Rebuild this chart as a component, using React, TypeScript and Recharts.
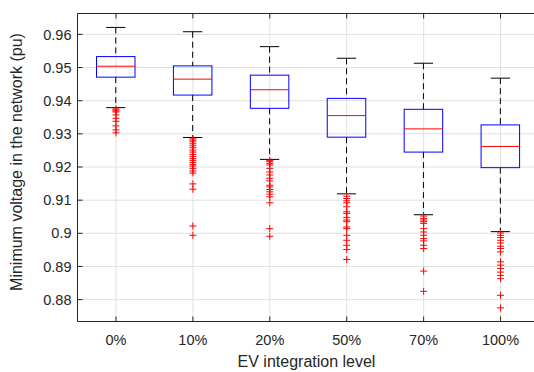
import { ComposedChart, Bar, Scatter, XAxis, YAxis, CartesianGrid, ReferenceLine } from 'recharts';

const categories = ['0%', '10%', '20%', '50%', '70%', '100%'];
const whiskerHigh = [0.9621, 0.9608, 0.9563, 0.9528, 0.9513, 0.9468];
const upperQuartile = [0.9533, 0.9505, 0.9477, 0.9407, 0.9374, 0.9327];
const medians = [0.9504, 0.9465, 0.9433, 0.9355, 0.9315, 0.9262];
const lowerQuartile = [0.9471, 0.9417, 0.9377, 0.929, 0.9245, 0.9198];
const whiskerLow = [0.9379, 0.9289, 0.9223, 0.9119, 0.9056, 0.9005];

const outliers0 = [0.9375, 0.9372, 0.9369, 0.9366, 0.9357, 0.9347, 0.9338, 0.9324, 0.9312, 0.9303];
const outliers10 = [
  0.9285, 0.9281, 0.9276, 0.927, 0.9264, 0.9258, 0.9251, 0.9245, 0.9238, 0.9232, 0.9226,
  0.922, 0.9214, 0.9208, 0.9203, 0.9196, 0.9188, 0.9182, 0.9149, 0.9133, 0.9022, 0.8994,
];
const outliers20 = [
  0.922, 0.9216, 0.9211, 0.9206, 0.9196, 0.9185, 0.9176, 0.9166, 0.9158, 0.9145, 0.914,
  0.9132, 0.9125, 0.9118, 0.911, 0.9092, 0.9014, 0.8991,
];
const outliers50 = [
  0.9112, 0.9105, 0.9098, 0.9092, 0.908, 0.9065, 0.906, 0.9048, 0.904, 0.9035, 0.9019,
  0.9014, 0.8994, 0.8979, 0.8964, 0.8951, 0.8921,
];
const outliers70 = [
  0.9052, 0.9045, 0.904, 0.9035, 0.903, 0.9014, 0.9004, 0.8994, 0.8984, 0.8977, 0.8964,
  0.8954, 0.8886, 0.8825,
];
const outliers100 = [
  0.9001, 0.8994, 0.8987, 0.8979, 0.8971, 0.8961, 0.8954, 0.8944, 0.8914, 0.8904, 0.8894,
  0.8883, 0.8873, 0.8863, 0.8813, 0.8775,
];
const outliers = [outliers0, outliers10, outliers20, outliers50, outliers70, outliers100];

const yTicks = [0.88, 0.89, 0.9, 0.91, 0.92, 0.93, 0.94, 0.95, 0.96];
const yDomain = [0.8734, 0.9663];

const boxData = categories.map((cat, i) => ({
  cat,
  range: [whiskerLow[i], whiskerHigh[i]],
  hi: whiskerHigh[i],
  q3: upperQuartile[i],
  med: medians[i],
  q1: lowerQuartile[i],
  lo: whiskerLow[i],
}));

const outlierData = categories.flatMap((cat, i) => outliers[i].map((v) => ({ cat, v })));

const FONT = '"Liberation Sans", Arial, Helvetica, sans-serif';
const TEXT = '#262626';
// inward tick length at the top border, in data units (~5px)
const TOP_TICK = 0.0015;

// box + whiskers, positions scaled from the bar the library placed for [lo, hi]
const BoxShape = (props: any) => {
  const { x, y, width, height, payload } = props;
  if (!payload) return null;
  const top = Math.min(y, y + height);
  const h = Math.abs(height);
  const span = payload.hi - payload.lo;
  const py = (v: number) => top + ((payload.hi - v) / span) * h;
  const cx = x + width / 2;
  const cap = width / 4;
  return (
    <g>
      <line x1={cx} x2={cx} y1={py(payload.hi)} y2={py(payload.q3)} stroke="#000" strokeDasharray="6 4" />
      <line x1={cx} x2={cx} y1={py(payload.q1)} y2={py(payload.lo)} stroke="#000" strokeDasharray="6 4" />
      <line x1={cx - cap} x2={cx + cap} y1={py(payload.hi)} y2={py(payload.hi)} stroke="#000" />
      <line x1={cx - cap} x2={cx + cap} y1={py(payload.lo)} y2={py(payload.lo)} stroke="#000" />
      <rect
        x={x}
        y={py(payload.q3)}
        width={width}
        height={py(payload.q1) - py(payload.q3)}
        fill="none"
        stroke="#0000ff"
      />
      <line x1={x} x2={x + width} y1={py(payload.med)} y2={py(payload.med)} stroke="#ff0000" />
    </g>
  );
};

const PlusShape = (props: any) => {
  const { cx, cy } = props;
  const s = 3.5;
  return (
    <g stroke="#ff0000" strokeWidth={1}>
      <line x1={cx - s} x2={cx + s} y1={cy} y2={cy} />
      <line x1={cx} x2={cx} y1={cy - s} y2={cy + s} />
    </g>
  );
};

export default function App() {
  return (
    <div
      style={{
        position: 'fixed',
        top: 0,
        left: 0,
        width: 534,
        height: 372,
        overflow: 'hidden',
        background: '#fff',
      }}
    >
      <ComposedChart
        width={545}
        height={372}
        data={boxData}
        margin={{ top: 13.5, right: 6, bottom: 0, left: 0 }}
      >
        <CartesianGrid stroke="#e0e0e0" />
        <XAxis
          dataKey="cat"
          allowDuplicatedCategory={false}
          height={50.5}
          stroke={TEXT}
          tickSize={-5}
          tickMargin={18.5}
          tick={{ fill: TEXT, fontSize: 14.5, fontFamily: FONT }}
          label={{
            content: () => (
              <text x={306.5} y={366.5} textAnchor="middle" fill={TEXT} fontSize={16} fontFamily={FONT}>
                EV integration level
              </text>
            ),
          }}
        />
        <YAxis
          type="number"
          domain={yDomain}
          ticks={yTicks}
          allowDataOverflow
          width={77.5}
          stroke={TEXT}
          tickSize={-5}
          tickMargin={11}
          tickFormatter={(v: number) => String(Number(v.toFixed(2)))}
          tick={{ fill: TEXT, fontSize: 14.5, fontFamily: FONT }}
          label={{
            content: () => (
              <text
                x={21.5}
                y={162}
                transform="rotate(-90 21.5 162)"
                textAnchor="middle"
                fill={TEXT}
                fontSize={16}
                fontFamily={FONT}
              >
                Minimum voltage in the network (pu)
              </text>
            ),
          }}
        />
        <ReferenceLine y={yDomain[1]} stroke={TEXT} />
        {categories.map((cat) => (
          <ReferenceLine
            key={cat}
            segment={[
              { x: cat, y: yDomain[1] },
              { x: cat, y: yDomain[1] - TOP_TICK },
            ]}
            stroke={TEXT}
          />
        ))}
        <Bar dataKey="range" barSize={38.5} shape={BoxShape} isAnimationActive={false} />
        <Scatter data={outlierData} dataKey="v" shape={PlusShape} isAnimationActive={false} />
      </ComposedChart>
    </div>
  );
}
